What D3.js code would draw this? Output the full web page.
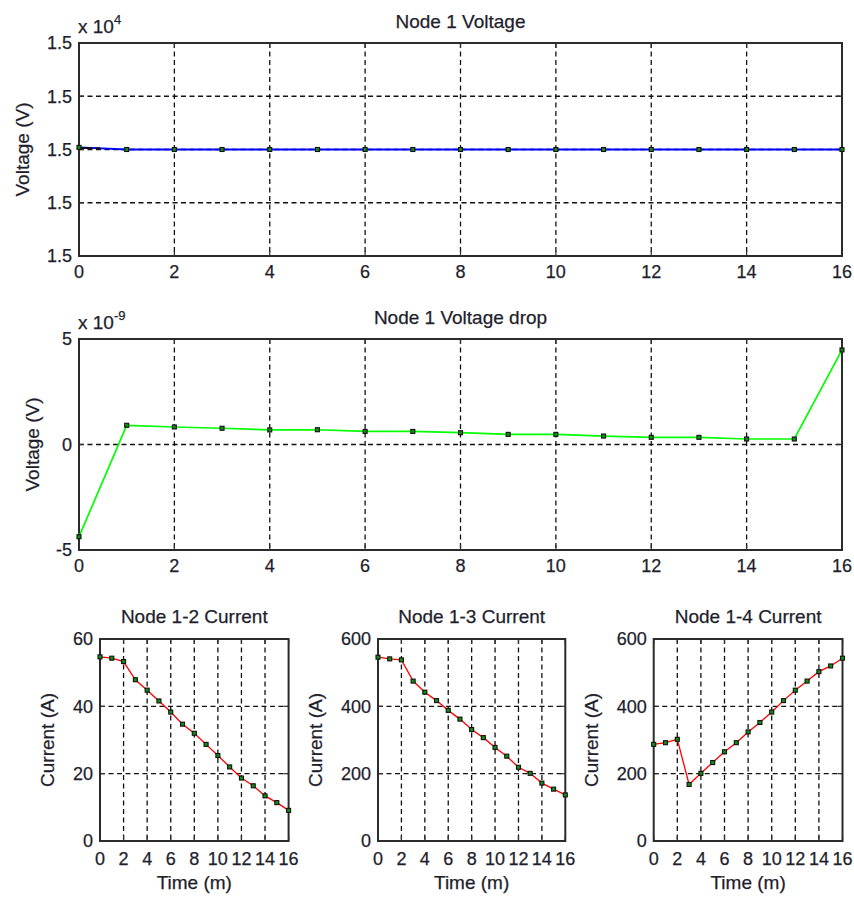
<!DOCTYPE html>
<html>
<head>
<meta charset="utf-8">
<script src="https://cdn.jsdelivr.net/npm/d3@7"></script>
<style>
  html, body { margin: 0; padding: 0; background: #fff; }
  svg { display: block; }
  text { font-family: "Liberation Sans", Arial, sans-serif; fill: #1e1e2c; stroke: #1e1e2c; stroke-width: 0.25; }
</style>
</head>
<body>
<svg id="fig" width="854" height="897"></svg>
<script>
// ---- data -------------------------------------------------------------
const timeMin = d3.range(0, 17);          // sample times, minutes
const timeTicks = d3.range(0, 17, 2);

// Node 1 voltage (V)
const node1Voltage = [15000.0004, 15000, 15000, 15000, 15000, 15000, 15000, 15000, 15000,
                      15000, 15000, 15000, 15000, 15000, 15000, 15000, 15000];
const voltageTicks = [14999.98, 14999.99, 15000, 15000.01, 15000.02];
const startupSpan = 0.45;                 // settling trace drawn in black before the blue trace

// Node 1 voltage drop (V)
const node1Drop = [-4.37e-9, 0.91e-9, 0.83e-9, 0.77e-9, 0.69e-9, 0.70e-9, 0.62e-9, 0.62e-9, 0.56e-9,
                   0.48e-9, 0.48e-9, 0.40e-9, 0.34e-9, 0.34e-9, 0.26e-9, 0.26e-9, 4.48e-9];
const dropTicks = [-5e-9, 0, 5e-9];

// Branch currents (A)
const current12 = [54.7, 54.3, 53.3, 47.9, 44.8, 41.6, 38.3, 34.7, 32.0, 28.7, 25.4, 22.0, 18.7, 16.4, 13.4, 11.4, 9.1];
const current13 = [546, 541, 538, 475, 442, 417, 388, 362, 331, 307, 278, 252, 219, 201, 172, 154, 137];
const current14 = [287, 292, 302, 168, 201, 233, 265, 292, 324, 352, 383, 417, 448, 475, 503, 520, 543];
const currentTicks12 = [0, 20, 40, 60];
const currentTicks = [0, 200, 400, 600];

// ---- drawing helpers --------------------------------------------------
const svg = d3.select("#fig");

function panel(o) {
  const x = d3.scaleLinear().domain([0, 16]).range([o.left, o.right]);
  const y = d3.scaleLinear().domain(o.yDomain).range([o.bottom, o.top]);
  const g = svg.append("g");

  // grid
  g.append("g").selectAll("line").data(timeTicks.filter(t => t > 0 && t < 16)).join("line")
    .attr("x1", d => x(d)).attr("x2", d => x(d)).attr("y1", o.top).attr("y2", o.bottom)
    .attr("stroke", "#111").attr("stroke-width", 1.3).attr("stroke-dasharray", "5,3.5");
  g.append("g").selectAll("line").data(o.yTicks.filter(t => t > o.yDomain[0] && t < o.yDomain[1])).join("line")
    .attr("x1", o.left).attr("x2", o.right).attr("y1", d => y(d)).attr("y2", d => y(d))
    .attr("stroke", "#111").attr("stroke-width", 1.3).attr("stroke-dasharray", "5,3.5");

  // axes (inward ticks), mirrored on top/right
  const tl = 5;
  const ax = g.append("g").attr("stroke", "#333").attr("stroke-width", 1.2);
  timeTicks.forEach(t => {
    ax.append("line").attr("x1", x(t)).attr("x2", x(t)).attr("y1", o.bottom).attr("y2", o.bottom - tl);
    ax.append("line").attr("x1", x(t)).attr("x2", x(t)).attr("y1", o.top).attr("y2", o.top + tl);
  });
  o.yTicks.forEach(t => {
    ax.append("line").attr("x1", o.left).attr("x2", o.left + tl).attr("y1", y(t)).attr("y2", y(t));
    ax.append("line").attr("x1", o.right).attr("x2", o.right - tl).attr("y1", y(t)).attr("y2", y(t));
  });
  g.append("rect").attr("x", o.left).attr("y", o.top)
    .attr("width", o.right - o.left).attr("height", o.bottom - o.top)
    .attr("fill", "none").attr("stroke", "#2b2b2b").attr("stroke-width", 2);

  // tick labels
  g.append("g").selectAll("text").data(timeTicks).join("text")
    .attr("x", d => x(d)).attr("y", o.bottom + o.xLabelDy)
    .attr("text-anchor", "middle").attr("font-size", 18).text(d => d);
  g.append("g").selectAll("text").data(o.yTicks).join("text")
    .attr("x", o.left - 7).attr("y", d => y(d)).attr("dy", "0.36em")
    .attr("text-anchor", "end").attr("font-size", 18).text(o.yFormat);

  // title
  g.append("text").attr("x", (o.left + o.right) / 2).attr("y", o.titleY)
    .attr("text-anchor", "middle").attr("font-size", 19).text(o.title);

  // axis labels
  g.append("text").attr("transform", `translate(${o.yLabelX},${(o.top + o.bottom) / 2}) rotate(-90)`)
    .attr("text-anchor", "middle").attr("font-size", 19).text(o.yLabel);
  if (o.xLabel) {
    g.append("text").attr("x", (o.left + o.right) / 2).attr("y", o.xLabelY)
      .attr("text-anchor", "middle").attr("font-size", 19).text(o.xLabel);
  }

  // exponent label
  if (o.exponent) {
    const t = g.append("text").attr("x", o.left - 1).attr("y", o.top - 10).attr("font-size", 19);
    t.append("tspan").text("x 10");
    t.append("tspan").attr("dy", -9).attr("font-size", 13).text(o.exponent);
  }

  // series
  const line = d3.line().x((d, i) => x(timeMin[i])).y(d => y(d));
  g.append("path").datum(o.values).attr("d", line)
    .attr("fill", "none").attr("stroke", o.color).attr("stroke-width", o.lineWidth || 1.4);
  if (o.after) o.after(g, x, y);
  g.append("g").selectAll("rect").data(o.values).join("rect")
    .attr("x", (d, i) => x(timeMin[i]) - 2).attr("y", d => y(d) - 2)
    .attr("width", 4).attr("height", 4)
    .attr("fill", "#128c12").attr("stroke", "#111").attr("stroke-width", 1.1);
}

// Node 1 voltage
panel({
  left: 79, right: 842, top: 43, bottom: 256,
  yDomain: [voltageTicks[0], voltageTicks[voltageTicks.length - 1]], yTicks: voltageTicks,
  yFormat: d => (d / 1e4).toFixed(1), exponent: "4",
  title: "Node 1 Voltage", titleY: 28, yLabel: "Voltage (V)", yLabelX: 29, xLabelDy: 22,
  values: node1Voltage, color: "#0000ff", lineWidth: 1.8,
  after: (g, x, y) => {
    g.append("line").attr("x1", x(0)).attr("x2", x(startupSpan))
      .attr("y1", y(node1Voltage[0]) + 0.8).attr("y2", y(node1Voltage[0]) + 0.8)
      .attr("stroke", "#111").attr("stroke-width", 1.8).attr("stroke-dasharray", "13,3,5");
  }
});

// Node 1 voltage drop
panel({
  left: 79, right: 842, top: 339, bottom: 550,
  yDomain: [dropTicks[0], dropTicks[2]], yTicks: dropTicks,
  yFormat: d => Math.round(d / 1e-9), exponent: "-9",
  title: "Node 1 Voltage drop", titleY: 324, yLabel: "Voltage (V)", yLabelX: 39, xLabelDy: 22,
  values: node1Drop, color: "#00ff00", lineWidth: 1.7
});

// Branch currents
const currentPanels = [
  { left: 100, right: 288.6, title: "Node 1-2 Current", values: current12, yDomain: [0, 60], yTicks: currentTicks12, yLabelX: 54 },
  { left: 378, right: 565.3, title: "Node 1-3 Current", values: current13, yDomain: [0, 600], yTicks: currentTicks, yLabelX: 322 },
  { left: 653.7, right: 842.5, title: "Node 1-4 Current", values: current14, yDomain: [0, 600], yTicks: currentTicks, yLabelX: 598 }
];
currentPanels.forEach(p => panel(Object.assign({
  top: 639, bottom: 841, yFormat: d => d, titleY: 623,
  yLabel: "Current (A)", xLabel: "Time (m)", xLabelY: 889, xLabelDy: 24,
  color: "#ff0000", lineWidth: 1.3
}, p)));
</script>
</body>
</html>
